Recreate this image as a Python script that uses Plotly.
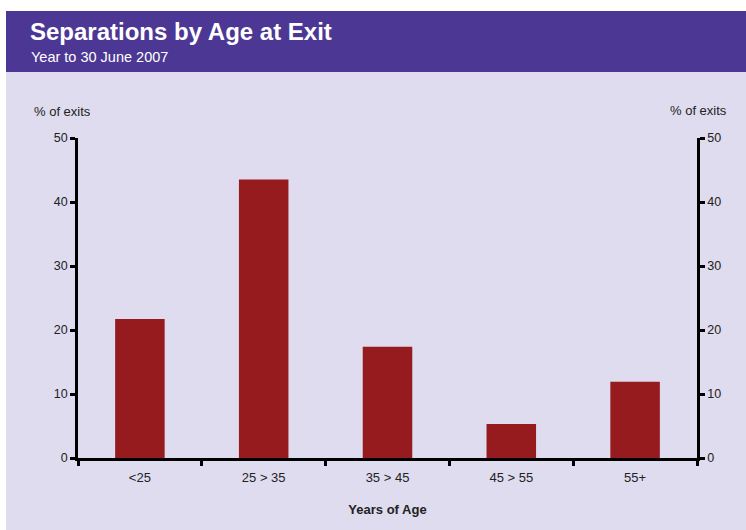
import plotly.graph_objects as go

# Separations by age band, % of exits, year to 30 June 2007
age_bands = ["<25", "25 > 35", "35 > 45", "45 > 55", "55+"]
pct_exits = [21.7, 43.5, 17.4, 5.3, 11.9]
y_ticks = [0, 10, 20, 30, 40, 50]

W, H = 746, 530
L, R, T, B = 78, 49, 138, 72
pw, ph = W - L - R, H - T - B


def px_x(x):
    return (x - L) / pw


def px_y(y):
    return (H - B - y) / ph


FONT = "Liberation Sans, Arial, sans-serif"
BG = "#DEDCEE"
BAND = "#4C3894"
BAR = "#961B1F"
TXT = "#222222"

fig = go.Figure()
fig.add_trace(go.Bar(x=age_bands, y=pct_exits, marker=dict(color=BAR, line=dict(width=0)),
                     width=0.4, hoverinfo="x+y"))
fig.add_trace(go.Bar(x=age_bands, y=pct_exits, yaxis="y2", opacity=0,
                     width=0.4, hoverinfo="skip", showlegend=False))

axis_common = dict(range=[0, 50], tickvals=y_ticks, showgrid=False, zeroline=False,
                   showline=True, linecolor="black", linewidth=2.5,
                   ticks="outside", ticklen=5, tickwidth=2.5, tickcolor="black",
                   tickfont=dict(family=FONT, size=12.5, color=TXT), fixedrange=True)

fig.update_layout(
    width=W, height=H,
    margin=dict(l=L, r=R, t=T, b=B, pad=0),
    paper_bgcolor=BG, plot_bgcolor=BG,
    showlegend=False, barmode="overlay",
    xaxis=dict(type="category", tickson="boundaries", showgrid=False, zeroline=False,
               showline=True, linecolor="black", linewidth=2.5,
               ticks="outside", ticklen=5, tickwidth=2.5, tickcolor="black",
               ticklabelstandoff=6,
               tickfont=dict(family=FONT, size=13, color=TXT),
               title=dict(text="<b>Years of Age</b>", standoff=21,
                          font=dict(family=FONT, size=13, color=TXT)),
               range=[-0.5, 4.5]),
    yaxis=dict(side="left", **axis_common),
    yaxis2=dict(side="right", overlaying="y", **axis_common),
    shapes=[
        # white border strips
        dict(type="rect", xref="paper", yref="paper", x0=px_x(0), x1=px_x(W),
             y0=px_y(11), y1=px_y(0), fillcolor="white", line=dict(width=0), layer="below"),
        dict(type="rect", xref="paper", yref="paper", x0=px_x(0), x1=px_x(6),
             y0=px_y(H), y1=px_y(0), fillcolor="white", line=dict(width=0), layer="below"),
        # header band
        dict(type="rect", xref="paper", yref="paper", x0=px_x(6), x1=px_x(W),
             y0=px_y(72), y1=px_y(11), fillcolor=BAND, line=dict(width=0), layer="below"),
    ],
    annotations=[
        dict(text="<b>Separations by Age at Exit</b>", xref="paper", yref="paper",
             x=px_x(28), y=px_y(32), xanchor="left", yanchor="middle", showarrow=False,
             font=dict(family=FONT, size=24, color="white")),
        dict(text="Year to 30 June 2007", xref="paper", yref="paper",
             x=px_x(29), y=px_y(57), xanchor="left", yanchor="middle", showarrow=False,
             font=dict(family=FONT, size=14.5, color="white")),
        dict(text="% of exits", xref="paper", yref="paper",
             x=px_x(32), y=px_y(112), xanchor="left", yanchor="middle", showarrow=False,
             font=dict(family=FONT, size=13, color=TXT)),
        dict(text="% of exits", xref="paper", yref="paper",
             x=px_x(729), y=px_y(110), xanchor="right", yanchor="middle", showarrow=False,
             font=dict(family=FONT, size=13, color=TXT)),
    ],
)

fig.write_html("out.html")
